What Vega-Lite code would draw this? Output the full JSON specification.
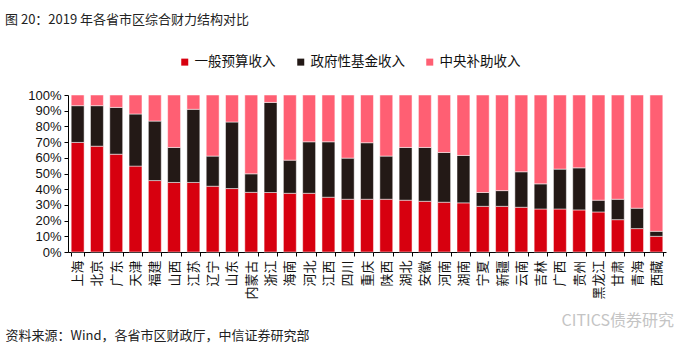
{
  "$schema": "https://vega.github.io/schema/vega-lite/v6.json",
  "width": 598,
  "height": 157,
  "autosize": {"type": "none"},
  "padding": {"left": 68, "top": 95, "right": 34, "bottom": 98},
  "background": "white",
  "title": {
    "text": "图 20：2019 年各省市区综合财力结构对比",
    "anchor": "start",
    "frame": "group",
    "orient": "top",
    "dx": -63,
    "offset": 28,
    "font": "Noto Sans CJK SC",
    "fontSize": 13,
    "fontWeight": "normal",
    "color": "#222222"
  },
  "data": {
    "values": [
      {"p": "上海", "一般预算收入": 69.8, "政府性基金收入": 23.4, "中央补助收入": 6.8},
      {"p": "北京", "一般预算收入": 67.4, "政府性基金收入": 25.8, "中央补助收入": 6.8},
      {"p": "广东", "一般预算收入": 62.3, "政府性基金收入": 29.8, "中央补助收入": 7.9},
      {"p": "天津", "一般预算收入": 54.7, "政府性基金收入": 33.2, "中央补助收入": 12.1},
      {"p": "福建", "一般预算收入": 45.5, "政府性基金收入": 37.9, "中央补助收入": 16.6},
      {"p": "山西", "一般预算收入": 44.3, "政府性基金收入": 22.3, "中央补助收入": 33.4},
      {"p": "江苏", "一般预算收入": 44.3, "政府性基金收入": 46.6, "中央补助收入": 9.1},
      {"p": "辽宁", "一般预算收入": 41.9, "政府性基金收入": 19.2, "中央补助收入": 38.9},
      {"p": "山东", "一般预算收入": 40.4, "政府性基金收入": 42.4, "中央补助收入": 17.2},
      {"p": "内蒙古", "一般预算收入": 38.0, "政府性基金收入": 11.8, "中央补助收入": 50.2},
      {"p": "浙江", "一般预算收入": 37.9, "政府性基金收入": 57.4, "中央补助收入": 4.7},
      {"p": "海南", "一般预算收入": 37.4, "政府性基金收入": 21.1, "中央补助收入": 41.5},
      {"p": "河北", "一般预算收入": 37.4, "政府性基金收入": 32.8, "中央补助收入": 29.8},
      {"p": "江西", "一般预算收入": 34.9, "政府性基金收入": 35.3, "中央补助收入": 29.8},
      {"p": "四川", "一般预算收入": 33.6, "政府性基金收入": 26.2, "中央补助收入": 40.2},
      {"p": "重庆", "一般预算收入": 33.6, "政府性基金收入": 36.0, "中央补助收入": 30.4},
      {"p": "陕西", "一般预算收入": 33.6, "政府性基金收入": 27.5, "中央补助收入": 38.9},
      {"p": "湖北", "一般预算收入": 33.0, "政府性基金收入": 33.6, "中央补助收入": 33.4},
      {"p": "安徽", "一般预算收入": 32.3, "政府性基金收入": 34.3, "中央补助收入": 33.4},
      {"p": "河南", "一般预算收入": 31.7, "政府性基金收入": 31.7, "中央补助收入": 36.6},
      {"p": "湖南", "一般预算收入": 31.3, "政府性基金收入": 30.2, "中央补助收入": 38.5},
      {"p": "宁夏", "一般预算收入": 29.1, "政府性基金收入": 8.8, "中央补助收入": 62.1},
      {"p": "新疆", "一般预算收入": 29.1, "政府性基金收入": 10.0, "中央补助收入": 60.9},
      {"p": "云南", "一般预算收入": 28.5, "政府性基金收入": 22.6, "中央补助收入": 48.9},
      {"p": "吉林", "一般预算收入": 27.4, "政府性基金收入": 16.0, "中央补助收入": 56.6},
      {"p": "广西", "一般预算收入": 27.4, "政府性基金收入": 25.4, "中央补助收入": 47.2},
      {"p": "贵州", "一般预算收入": 26.8, "政府性基金收入": 26.8, "中央补助收入": 46.4},
      {"p": "黑龙江", "一般预算收入": 25.5, "政府性基金收入": 7.5, "中央补助收入": 67.0},
      {"p": "甘肃", "一般预算收入": 20.6, "政府性基金收入": 13.0, "中央补助收入": 66.4},
      {"p": "青海", "一般预算收入": 14.9, "政府性基金收入": 13.0, "中央补助收入": 72.1},
      {"p": "西藏", "一般预算收入": 10.0, "政府性基金收入": 3.2, "中央补助收入": 86.8}
    ]
  },
  "transform": [
    {"fold": ["一般预算收入", "政府性基金收入", "中央补助收入"], "as": ["type", "value"]},
    {"window": [{"op": "row_number", "as": "k"}], "groupby": ["p"]}
  ],
  "mark": {"type": "bar", "stroke": "white", "strokeWidth": 0.5},
  "encoding": {
    "x": {
      "field": "p",
      "type": "nominal",
      "sort": null,
      "scale": {"paddingInner": 0.33, "paddingOuter": 0.165},
      "axis": {
        "labelAngle": 270,
        "labelAlign": "right",
        "labelBaseline": "middle",
        "labelFont": "Noto Sans CJK SC",
        "labelFontSize": 13,
        "labelColor": "#111111",
        "labelPadding": 4,
        "labelOverlap": false,
        "tickBand": "extent",
        "tickSize": 4,
        "tickColor": "#000000",
        "domainColor": "#000000",
        "title": "资料来源：Wind，各省市区财政厅，中信证券研究部",
        "titleX": -63,
        "titleY": 83,
        "titleAlign": "left",
        "titleBaseline": "middle",
        "titleAnchor": null,
        "titleFont": "Noto Sans CJK SC",
        "titleFontSize": 13,
        "titleFontWeight": "normal",
        "titleColor": "#222222"
      }
    },
    "y": {
      "field": "value",
      "type": "quantitative",
      "stack": "normalize",
      "scale": {"domain": [0, 1]},
      "axis": {
        "format": ".0%",
        "values": [0, 0.1, 0.2, 0.3, 0.4, 0.5, 0.6, 0.7, 0.8, 0.9, 1],
        "grid": false,
        "labelFont": "Liberation Sans",
        "labelFontSize": 13,
        "labelColor": "#111111",
        "labelPadding": 3,
        "tickSize": 4,
        "tickColor": "#000000",
        "domainColor": "#000000",
        "title": "CITICS债券研究",
        "titleAngle": 0,
        "titleX": 493,
        "titleY": 225,
        "titleAlign": "left",
        "titleBaseline": "middle",
        "titleFont": "Noto Sans CJK SC",
        "titleFontSize": 16,
        "titleFontWeight": "normal",
        "titleColor": "#c4c4c4"
      }
    },
    "order": {"field": "k", "type": "quantitative", "sort": "ascending"},
    "color": {
      "field": "type",
      "type": "nominal",
      "scale": {
        "domain": ["一般预算收入", "政府性基金收入", "中央补助收入"],
        "range": ["#d7000f", "#231916", "#ff5f73"]
      },
      "legend": {
        "orient": "none",
        "legendX": 110,
        "legendY": -40,
        "direction": "horizontal",
        "title": null,
        "symbolType": "square",
        "symbolSize": 49,
        "symbolStrokeWidth": 0,
        "labelFont": "Noto Sans CJK SC",
        "labelFontSize": 13.5,
        "labelColor": "#111111",
        "labelOffset": 3,
        "columnPadding": 18
      }
    }
  },
  "config": {"view": {"stroke": null}}
}
